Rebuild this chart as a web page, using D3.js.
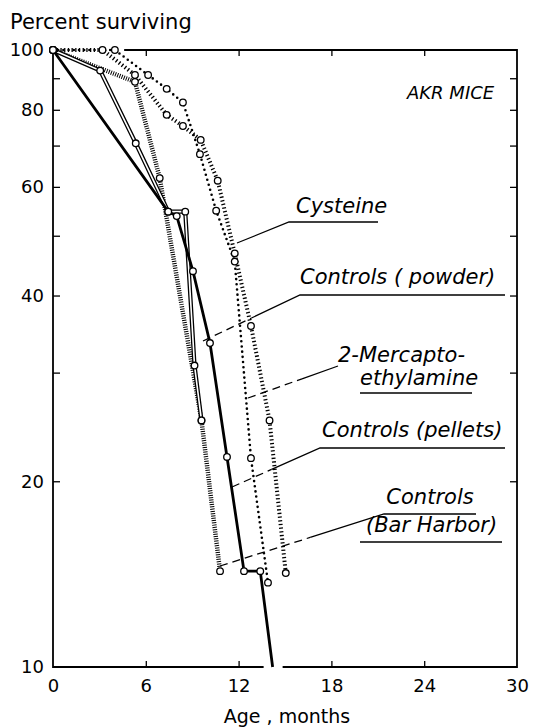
<!DOCTYPE html>
<html>
<head>
<meta charset="utf-8">
<script src="https://cdn.jsdelivr.net/npm/d3@7"></script>
<style>
  body { margin: 0; background: #fff; }
  text { font-family: 'DejaVu Sans', sans-serif; fill: #000; }
</style>
</head>
<body>
<svg id="chart"></svg>
<script>
// survival curves, AKR mice (months, percent surviving)
var cysteineMonths = [0, 3.2, 5.3, 7.35, 8.4, 9.55, 10.65, 11.75, 12.8, 14.0, 15.05]
var cysteinePct    = [100, 100, 91.1, 78.5, 75.3, 71.5, 61.4, 46.8, 35.7, 25.1, 14.2]

var mercaptoMonths = [0, 4.0, 6.15, 7.35, 8.4, 9.5, 10.55, 11.75, 12.8, 13.9]
var mercaptoPct    = [100, 100, 91.1, 86.5, 82.2, 67.8, 54.9, 45.4, 21.8, 13.7]

var powderMonths = [0, 3.05, 5.35, 7.45, 8.55, 9.15, 9.6]
var powderPct    = [100, 92.6, 70.6, 54.7, 54.7, 30.8, 25.1]

var pelletsMonths = [0, 7.45, 8.0, 9.05, 10.15, 11.25, 12.35, 13.4, 14.2]
var pelletsPct    = [100, 54.7, 53.8, 43.8, 33.5, 21.9, 14.3, 14.3, 10]

var barHarborMonths = [0, 5.3, 6.9, 9.6, 10.8]
var barHarborPct    = [100, 88.8, 62.0, 25.1, 14.3]

var xTicks = [0, 6, 12, 18, 24, 30]
var yTicks = [10, 20, 30, 40, 50, 60, 70, 80, 90, 100]
var yLabels = [10, 20, 40, 60, 80, 100]

var series = [
  {name: 'Controls (Bar Harbor)', months: barHarborMonths, pct: barHarborPct, style: 'hatch'},
  {name: 'Controls (powder)', months: powderMonths, pct: powderPct, style: 'double'},
  {name: '2-Mercaptoethylamine', months: mercaptoMonths, pct: mercaptoPct, style: 'dots'},
  {name: 'Cysteine', months: cysteineMonths, pct: cysteinePct, style: 'ticks'},
  {name: 'Controls (pellets)', months: pelletsMonths, pct: pelletsPct, style: 'solid'}
]

var W = 559, H = 728
var svg = d3.select('#chart').attr('width', W).attr('height', H)

var x = d3.scaleLinear().domain([0, 30]).range([53, 517])
var y = d3.scaleLog().domain([10, 100]).range([667, 50])

var line = d3.line().x(d => x(d[0])).y(d => y(d[1]))

// axes, ticks pointing inward
var gx = svg.append('g').attr('transform', 'translate(0,' + y(10) + ')')
  .call(d3.axisBottom(x).tickValues(xTicks).tickSize(-6).tickPadding(12))
svg.append('g').attr('transform', 'translate(0,' + y(100) + ')')
  .call(d3.axisTop(x).tickValues(xTicks.slice(1, -1)).tickSize(-6).tickFormat(''))
var gy = svg.append('g').attr('transform', 'translate(' + x(0) + ',0)')
  .call(d3.axisLeft(y).tickValues(yTicks).tickSize(-7).tickPadding(9)
    .tickFormat(d => yLabels.includes(d) ? d : ''))
svg.append('g').attr('transform', 'translate(' + x(30) + ',0)')
  .call(d3.axisRight(y).tickValues(yTicks.slice(1, -1)).tickSize(-7).tickFormat(''))

svg.selectAll('.domain').remove()
gx.selectAll('.tick').filter(d => d == 0 || d == 30).select('line').remove()
gy.selectAll('.tick').filter(d => d == 10 || d == 100).select('line').remove()
svg.selectAll('.tick line').attr('stroke', '#000').attr('stroke-width', 1.3)
svg.selectAll('.tick text').attr('font-size', 18).attr('font-family', 'DejaVu Sans')

// frame, broken where the pellets curve runs out of the bottom
var gapX = x(pelletsMonths[pelletsMonths.length - 1])
var frame = [
  [[x(0), y(100)], [x(0), y(10)], [gapX - 9, y(10)]],
  [[gapX + 10, y(10)], [x(30), y(10)], [x(30), y(100)], [x(4.6), y(100)]]
]
svg.selectAll('path.frame').data(frame).enter().append('path')
  .attr('class', 'frame')
  .attr('d', d3.line())
  .attr('fill', 'none').attr('stroke', '#000').attr('stroke-width', 1.8)

// curves
var curveG = svg.append('g')
series.forEach(s => {
  var pts = s.months.map((m, i) => [m, s.pct[i]])
  var d = line(pts)
  var p = () => curveG.append('path').attr('d', d).attr('fill', 'none').attr('stroke', '#000')
  if (s.style == 'solid') {
    p().attr('stroke-width', 2.8)
  } else if (s.style == 'double') {
    p().attr('stroke-width', 4.2)
    p().attr('stroke', '#fff').attr('stroke-width', 1.6)
  } else if (s.style == 'hatch') {
    p().attr('stroke-width', 4.5).attr('stroke-dasharray', '1,1.3')
  } else if (s.style == 'ticks') {
    p().attr('stroke-width', 4).attr('stroke-dasharray', '1.3,2.4')
  } else {
    p().attr('stroke-width', 2.6).attr('stroke-linecap', 'round').attr('stroke-dasharray', '0,5.2')
  }
})

series.forEach(s => {
  var pts = s.months.map((m, i) => [m, s.pct[i]]).filter(d => d[1] > 10)
  curveG.selectAll(null).data(pts).enter().append('circle')
    .attr('cx', d => x(d[0])).attr('cy', d => y(d[1]))
    .attr('r', 3.3).attr('fill', '#fff')
    .attr('stroke', '#000').attr('stroke-width', 1.3)
})

// labels with leader lines (pixel layout)
var notes = [
  {lines: [{t: 'Cysteine', x: 296, y: 213}], tip: [237, 243], knee: [289, 222], end: 378, dash: 0},
  {lines: [{t: 'Controls ( powder)', x: 300, y: 284}], tip: [203, 341], knee: [300, 295], end: 505, dash: 0.5},
  {lines: [{t: '2-Mercapto-', x: 338, y: 362}, {t: 'ethylamine', x: 360, y: 385}], tip: [248, 398], knee: [338, 366], end: 338, dash: 0.6,
    under: [[360, 393], [472, 393]]},
  {lines: [{t: 'Controls (pellets)', x: 322, y: 437}], tip: [232, 487], knee: [320, 448], end: 505, dash: 0.45},
  {lines: [{t: 'Controls', x: 430, y: 504, a: 'middle'}, {t: '(Bar Harbor)', x: 366, y: 532}], tip: [220, 566], knee: [384, 514], end: 476, dash: 0.55,
    under: [[360, 542], [502, 542]]}
]

var noteG = svg.append('g')
notes.forEach(n => {
  n.lines.forEach(l => {
    noteG.append('text').text(l.t)
      .attr('x', l.x).attr('y', l.y)
      .attr('text-anchor', l.a || 'start')
      .attr('font-size', 21).attr('font-style', 'italic')
  })
  var mid = [n.knee[0] + (n.tip[0] - n.knee[0]) * (1 - n.dash), n.knee[1] + (n.tip[1] - n.knee[1]) * (1 - n.dash)]
  noteG.append('path')
    .attr('d', d3.line()([mid, n.knee, [n.end, n.knee[1]]]))
    .attr('fill', 'none').attr('stroke', '#000').attr('stroke-width', 1.3)
  noteG.append('path')
    .attr('d', d3.line()([n.tip, mid]))
    .attr('fill', 'none').attr('stroke', '#000').attr('stroke-width', 1.3)
    .attr('stroke-dasharray', '8,5')
  if (n.under) noteG.append('path')
    .attr('d', d3.line()(n.under))
    .attr('fill', 'none').attr('stroke', '#000').attr('stroke-width', 1.3)
})

noteG.append('text').text('AKR MICE')
  .attr('x', 407).attr('y', 99)
  .attr('font-size', 18).attr('font-style', 'italic')

svg.append('text').text('Percent surviving')
  .attr('x', 10).attr('y', 29).attr('font-size', 21)

svg.append('text').text('Age , months')
  .attr('x', 287).attr('y', 723).attr('text-anchor', 'middle').attr('font-size', 19)
</script>
</body>
</html>
